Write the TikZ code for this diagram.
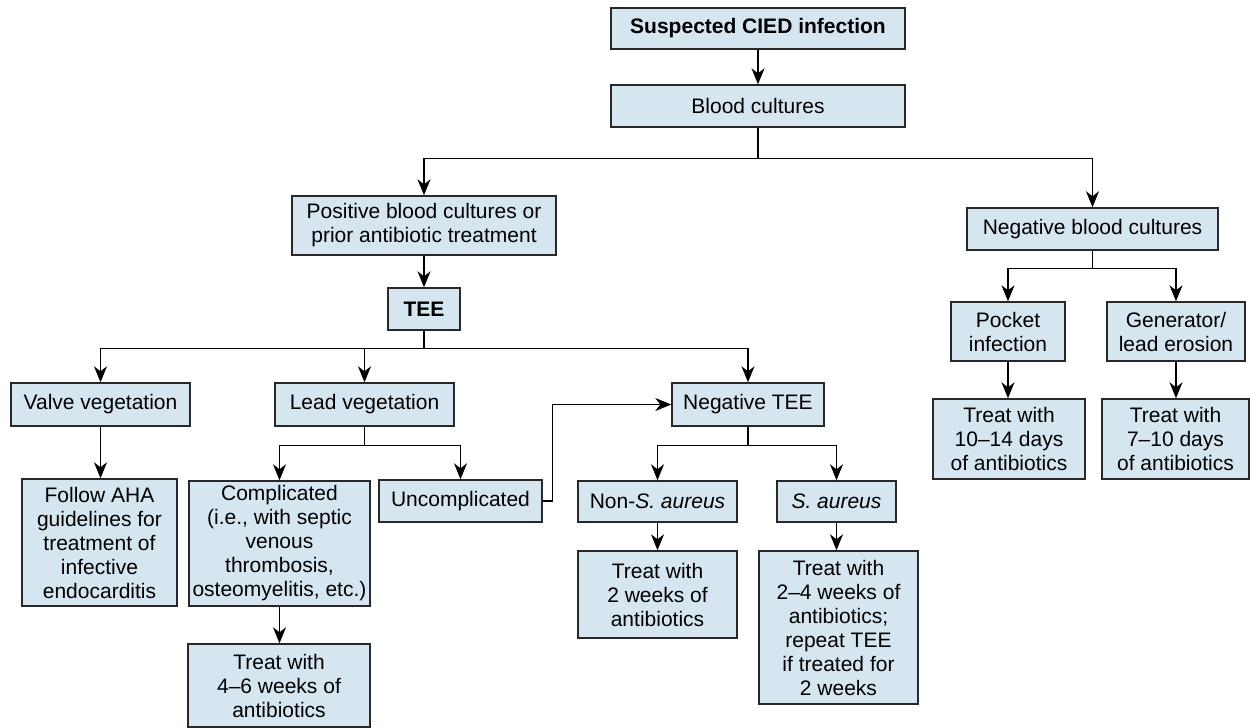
\documentclass[tikz,border=0pt]{standalone}
\usepackage{fontspec}
\setmainfont{Liberation Sans}
\usetikzlibrary{arrows.meta}
\definecolor{boxfill}{RGB}{214,230,240}
\definecolor{boxline}{RGB}{40,40,40}
\tikzset{
  box/.style={draw=boxline, fill=boxfill, line width=0.7pt, inner sep=0pt, align=center,
    font=\fontsize{10.5}{12}\selectfont},
  arr/.style={draw=black, line width=0.75pt, -{Stealth[length=8pt,width=6.5pt,inset=2.5pt]}},
}
\newcommand{\bx}[7]{% name, x1, y1, x2, y2, extra, text
  \node[box, #6, minimum width={(#4-#2)*0.5pt}, minimum height={(#5-#3)*0.5pt}]
    (#1) at ({(#2+#4)/2},{(#3+#5)/2}) {#7};}
\begin{document}
\begin{tikzpicture}[x=0.5pt,y=-0.5pt]
\useasboundingbox (0,0) rectangle (1250,728);
\bx{susp}{611}{8}{905}{49}{font=\fontsize{10.5}{12}\selectfont\bfseries}{Suspected CIED infection}
\bx{blood}{611}{85}{905}{127}{}{Blood cultures}
\bx{pos}{292}{196}{556}{255}{}{Positive blood cultures or\\prior antibiotic treatment}
\bx{tee}{388}{288}{460}{330}{font=\fontsize{10.5}{12}\selectfont\bfseries}{TEE}
\bx{valve}{11}{383}{190}{426}{}{Valve vegetation}
\bx{lead}{275}{383}{454}{426}{}{Lead vegetation}
\bx{negtee}{672}{383}{824}{426}{}{Negative TEE}
\bx{aha}{22}{479}{177}{606}{}{Follow AHA\\guidelines for\\treatment of\\infective\\endocarditis}
\bx{compl}{189}{481}{370}{606}{}{Complicated\\(i.e., with septic\\venous\\thrombosis,\\osteomyelitis, etc.)}
\bx{uncompl}{379}{480}{542}{522}{}{Uncomplicated}
\bx{nonsa}{578}{481}{737}{522}{}{Non-\textit{S. aureus}}
\bx{sa}{777}{481}{896}{522}{}{\textit{S. aureus}}
\bx{treatA}{188}{644}{370}{727}{}{Treat with\\4–6 weeks of\\antibiotics}
\bx{treatB}{578}{551}{737}{638}{}{Treat with\\2 weeks of\\antibiotics}
\bx{treatC}{759}{551}{918}{704}{}{Treat with\\2–4 weeks of\\antibiotics;\\repeat TEE\\if treated for\\2 weeks}
\bx{negbc}{967}{208}{1218}{250}{}{Negative blood cultures}
\bx{pocket}{951}{302}{1065}{361}{}{Pocket\\infection}
\bx{gen}{1107}{302}{1245}{361}{}{Generator/\\lead erosion}
\bx{treatD}{933}{399}{1085}{479}{}{Treat with\\10–14 days\\of antibiotics}
\bx{treatE}{1102}{399}{1249}{479}{}{Treat with\\7–10 days\\of antibiotics}
% connectors
\draw[arr] (susp.south) -- (susp.south |- blood.north);
\draw[arr] (blood.south) -- ++(0,31) -| (pos.north);
\draw[arr] (blood.south) -- ++(0,31) -| (negbc.north);
\draw[arr] (pos.south) -- (pos.south |- tee.north);
\draw[arr] (tee.south) -- ++(0,18) -| (valve.north);
\draw[arr] (tee.south) -- ++(0,18) -| (lead.north);
\draw[arr] (tee.south) -- ++(0,18) -| (negtee.north);
\draw[arr] (valve.south) -- (valve.south |- aha.north);
\draw[arr] (lead.south) -- ++(0,19) -| (compl.north);
\draw[arr] (lead.south) -- ++(0,19) -| (uncompl.north);
\draw[arr] (uncompl.east) -- ++(10,0) |- (negtee.west);
\draw[arr] (negtee.south) -- ++(0,19) -| (nonsa.north);
\draw[arr] (negtee.south) -- ++(0,19) -| (sa.north);
\draw[arr] (compl.south) -- (compl.south |- treatA.north);
\draw[arr] (nonsa.south) -- (nonsa.south |- treatB.north);
\draw[arr] (sa.south) -- (sa.south |- treatC.north);
\draw[arr] (negbc.south) -- ++(0,18) -| (pocket.north);
\draw[arr] (negbc.south) -- ++(0,18) -| (gen.north);
\draw[arr] (pocket.south) -- (pocket.south |- treatD.north);
\draw[arr] (gen.south) -- (gen.south |- treatE.north);
\end{tikzpicture}
\end{document}
